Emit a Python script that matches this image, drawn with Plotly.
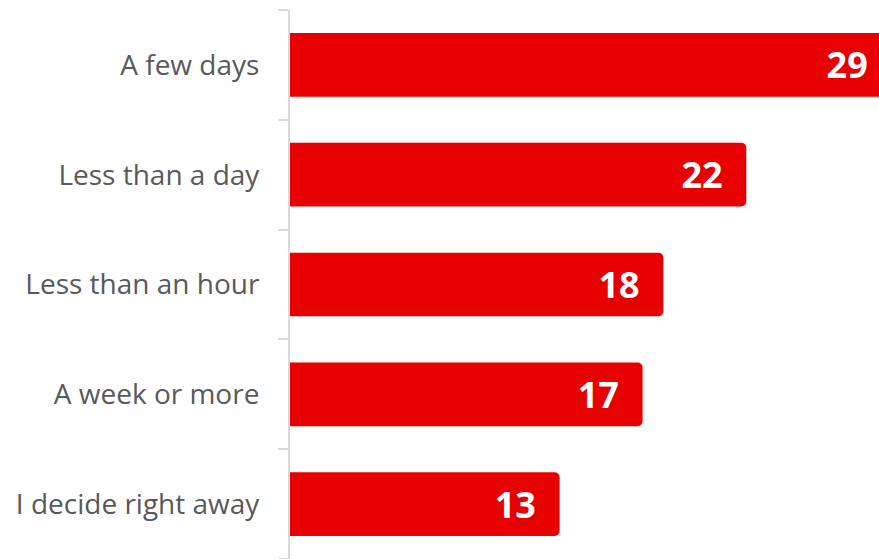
import plotly.graph_objects as go

categories = ["A few days", "Less than a day", "Less than an hour", "A week or more", "I decide right away"]
values = [29, 22, 18, 17, 13]

BAR_RED = "#E60000"
LABEL_GRAY = "#595959"
AXIS_GRAY = "#D9D9D9"

# trailing no-break spaces keep the value labels away from the bar ends
PAD = "\u00a0\u00a0"

fig = go.Figure(
    go.Bar(
        y=categories,
        x=values,
        orientation="h",
        marker=dict(color=BAR_RED, line=dict(width=0), cornerradius=5),
        text=[f"{v}{PAD}" for v in values],
        textposition="inside",
        insidetextanchor="end",
        textangle=0,
        textfont=dict(family="Open Sans", size=36, color="white", weight="bold"),
        hoverinfo="skip",
    )
)

fig.update_layout(
    width=879,
    height=559,
    margin=dict(l=290, r=0, t=10, b=0),
    paper_bgcolor="white",
    plot_bgcolor="white",
    bargap=0.42,
    showlegend=False,
)

fig.update_xaxes(
    range=[0, 28.4],
    visible=False,
    showgrid=False,
    zeroline=False,
)

fig.update_yaxes(
    categoryorder="array",
    categoryarray=categories[::-1],
    showgrid=False,
    showline=True,
    linecolor=AXIS_GRAY,
    linewidth=2,
    ticks="outside",
    tickson="boundaries",
    ticklen=10,
    tickwidth=2,
    tickcolor=AXIS_GRAY,
    ticklabelstandoff=23,
    tickfont=dict(family="Open Sans", size=28, color=LABEL_GRAY),
)

fig.write_html("out.html")
